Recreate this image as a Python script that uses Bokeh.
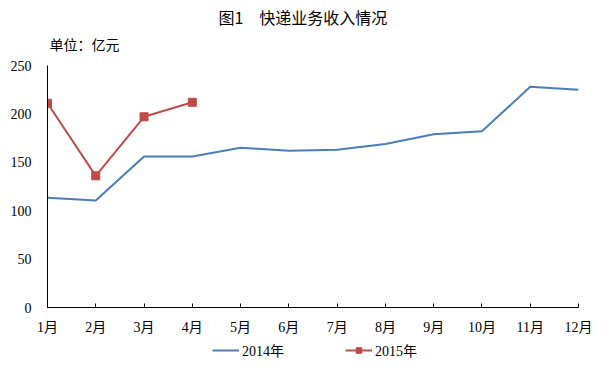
from bokeh.plotting import figure
from bokeh.layouts import column
from bokeh.models import Range1d, FixedTicker, Label, Legend, LegendItem
from bokeh.embed import file_html
from bokeh.resources import INLINE

months = ["1月", "2月", "3月", "4月", "5月", "6月", "7月", "8月", "9月", "10月", "11月", "12月"]
y2014 = [113.5, 110.5, 156, 156, 165, 162, 163, 169, 179, 182, 228, 225]
y2015 = [211, 136, 197, 212]
yticks = [0, 50, 100, 150, 200, 250]

title_text = "图1　快递业务收入情况"
unit_text = "单位：亿元"
series_names = ["2014年", "2015年"]

x2014 = list(range(len(y2014)))
x2015 = list(range(len(y2015)))

FONT = "'Liberation Serif', 'Noto Sans CJK SC'"
CJK = "'Noto Sans CJK SC'"

blue = "#4A7EBB"
red = "#BE4B48"

# main plot: frame reaches the top of the canvas; the visible y axis stops at 250
Y_MAX = 250
FRAME_H = 307
AXIS_H = 242
y_top = Y_MAX * FRAME_H / AXIS_H

p = figure(width=595, height=338, output_backend="svg", toolbar_location=None,
           x_range=Range1d(0, 11), y_range=Range1d(0, y_top),
           min_border_left=47, min_border_right=17, min_border_top=0, min_border_bottom=31)
p.outline_line_color = None
p.xgrid.visible = False
p.ygrid.visible = False
p.background_fill_color = "white"
p.border_fill_color = "white"

p.line(x2014, y2014, line_color=blue, line_width=2)
p.line(x2015, y2015, line_color=red, line_width=2)
p.scatter(x2015, y2015, marker="square", size=8, fill_color=red, line_color=red)

p.xaxis.ticker = FixedTicker(ticks=x2014)
p.xaxis.major_label_overrides = {i: m for i, m in enumerate(months)}
p.xaxis.major_tick_in = 4
p.xaxis.major_tick_out = 0
p.xaxis.minor_tick_line_color = None
p.xaxis.major_label_standoff = 12
p.xaxis.major_label_text_font = FONT
p.xaxis.major_label_text_font_size = "14px"
p.xaxis.major_label_text_color = "black"
p.xaxis.axis_line_color = "black"
p.xaxis.major_tick_line_color = "black"

p.yaxis.ticker = FixedTicker(ticks=yticks)
p.yaxis.bounds = (0, Y_MAX)
p.yaxis.major_tick_in = 0
p.yaxis.major_tick_out = 0
p.yaxis.minor_tick_line_color = None
p.yaxis.major_label_standoff = 16
p.yaxis.major_label_text_font = FONT
p.yaxis.major_label_text_font_size = "14px"
p.yaxis.major_label_text_color = "black"
p.yaxis.axis_line_color = "black"

p.add_layout(Label(x=5.29, y=300.6, text=title_text, text_align="center", text_baseline="middle",
                   text_font=CJK, text_font_size="16px", text_color="black"))
p.add_layout(Label(x=0.04, y=272.7, text=unit_text, text_align="left", text_baseline="middle",
                   text_font=CJK, text_font_size="14px", text_color="black"))

# legend strip below the plot (its renderers lie outside its own visible range)
lf = figure(width=595, height=28, output_backend="svg", toolbar_location=None,
            x_axis_type=None, y_axis_type=None,
            x_range=Range1d(100, 101), y_range=Range1d(0, 1),
            min_border_left=0, min_border_right=0, min_border_top=0, min_border_bottom=0)
lf.outline_line_color = None
lf.xgrid.visible = False
lf.ygrid.visible = False
l1 = lf.line(x2014, y2014, line_color=blue, line_width=2)
l2 = lf.line(x2015, y2015, line_color=red, line_width=2)
l3 = lf.scatter(x2015, y2015, marker="square", size=8, fill_color=red, line_color=red)

legend = Legend(items=[LegendItem(label=series_names[0], renderers=[l1]),
                       LegendItem(label=series_names[1], renderers=[l2, l3])],
                orientation="horizontal", location=(165, 6),
                glyph_width=27, glyph_height=14, label_height=16, label_standoff=3, spacing=61,
                padding=0, margin=0, border_line_color=None, background_fill_alpha=0,
                label_text_font=FONT, label_text_font_size="14px", label_text_color="black")
lf.add_layout(legend, "center")

layout = column(p, lf, spacing=0)

open("out.html", "w").write(file_html(layout, INLINE))
